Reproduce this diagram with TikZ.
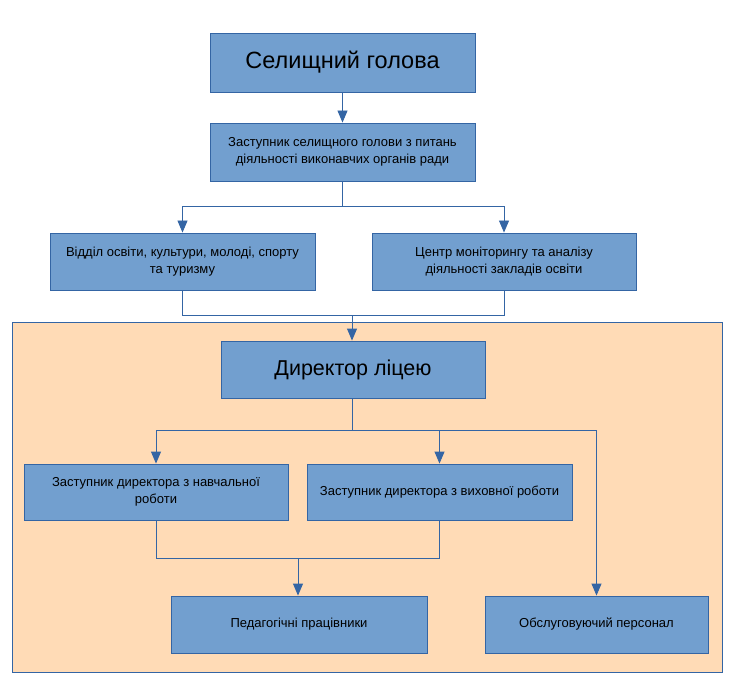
\documentclass[tikz,border=0pt]{standalone}
\usepackage{fontspec}
\setmainfont{Liberation Sans}
\usetikzlibrary{arrows.meta}
\definecolor{boxfill}{HTML}{729FCF}
\definecolor{boxline}{HTML}{3465A4}
\definecolor{peach}{HTML}{FFDBB6}
\tikzset{
  orgbox/.style={draw=boxline, fill=boxfill, line width=0.9pt, inner sep=2pt, align=center, font=\fontsize{13}{17.5}\selectfont},
  bigbox/.style={orgbox, font=\fontsize{23.5}{28}\selectfont},
  link/.style={draw=boxline, line width=0.9pt},
  arr/.style={link, -{Triangle[width=10pt,length=12pt]}},
}
\begin{document}
\begin{tikzpicture}[x=1pt,y=-1pt]
\useasboundingbox (0,0) rectangle (738,692);
\node[draw=boxline, fill=peach, line width=0.9pt, minimum width=710pt, minimum height=350pt, anchor=north west, inner sep=0pt] (bg) at (12,322) {};
% boxes
\node[bigbox, minimum width=265pt, minimum height=59pt] (head) at (342.5,62.5) {Селищний голова};
\node[orgbox, minimum width=265pt, minimum height=58pt] (dep) at (342.5,152) {Заступник селищного голови з питань\\діяльності виконавчих органів ради};
\node[orgbox, minimum width=265pt, minimum height=57pt] (dept) at (182.5,261.5) {Відділ освіти, культури, молоді, спорту\\та туризму};
\node[orgbox, minimum width=264pt, minimum height=57pt] (cent) at (504,261.5) {Центр моніторингу та аналізу\\діяльності закладів освіти};
\node[bigbox, font=\fontsize{21.5}{26}\selectfont, minimum width=264pt, minimum height=57pt] (dir) at (353,369.5) {Директор ліцею};
\node[orgbox, minimum width=264pt, minimum height=56pt] (zn) at (156,492) {Заступник директора з навчальної\\роботи};
\node[orgbox, minimum width=265pt, minimum height=56pt] (zv) at (439.5,492) {Заступник директора з виховної роботи};
\node[orgbox, minimum width=256pt, minimum height=57pt] (ped) at (299,624.5) {Педагогічні працівники};
\node[orgbox, minimum width=223pt, minimum height=57pt] (obs) at (596.5,624.5) {Обслуговуючий персонал};
% coordinates
\coordinate (j1) at (342.5,206);
\coordinate (j2) at (352,315);
\coordinate (j3) at (352,430);
\coordinate (j4) at (298,558);
% connectors
\draw[arr] (head.south) -- (dep.north);
\draw[link] (dep.south) -- (j1);
\draw[arr] (j1) -| (dept.north);
\draw[arr] (j1) -| (cent.north);
\draw[link] (dept.south) |- (j2);
\draw[link] (cent.south) |- (j2);
\draw[arr] (j2) -- (dir.north -| j2);
\draw[link] (dir.south -| j3) -- (j3);
\draw[arr] (j3) -| (zn.north);
\draw[arr] (j3) -| (zv.north);
\draw[arr] (j3) -| (obs.north);
\draw[link] (zn.south) |- (j4);
\draw[link] (zv.south) |- (j4);
\draw[arr] (j4) -- (ped.north -| j4);
\end{tikzpicture}
\end{document}
